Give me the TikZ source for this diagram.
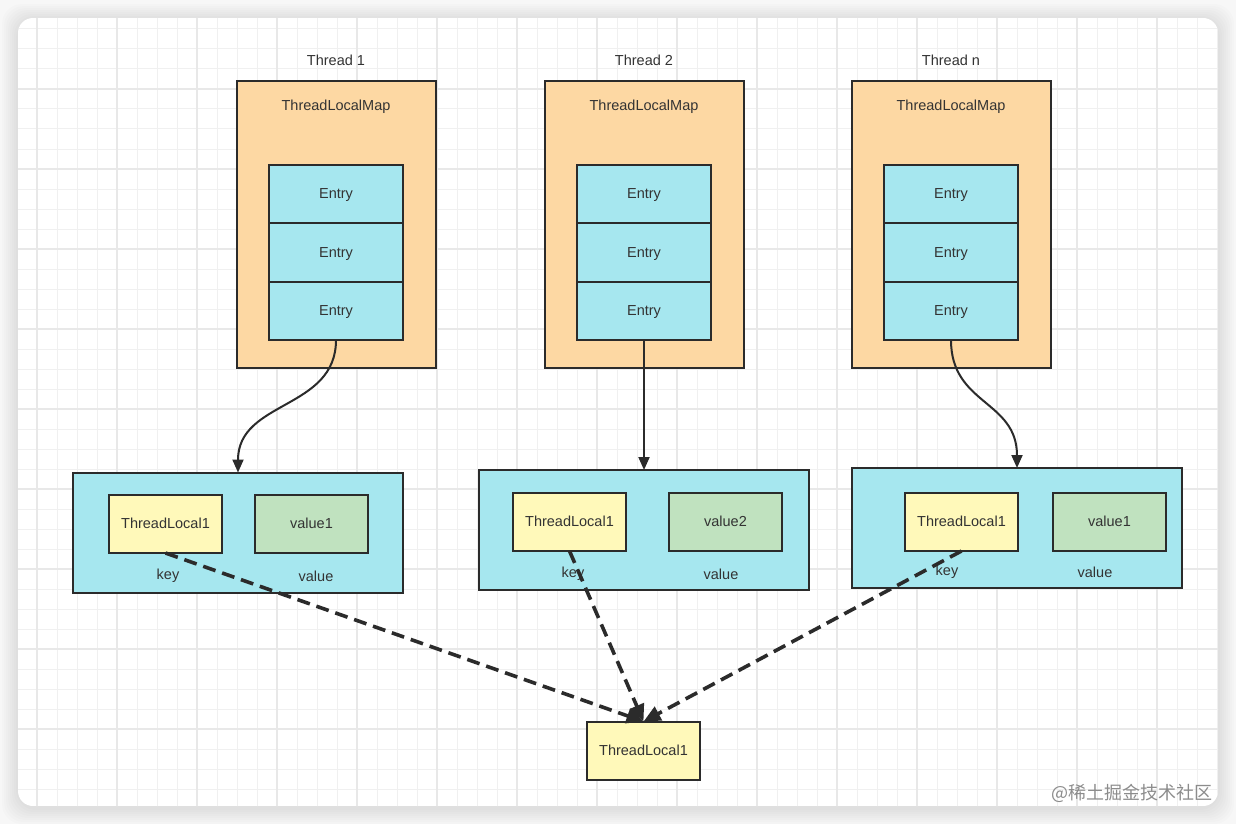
\documentclass[tikz,border=0pt]{standalone}
\usepackage{fontspec}
\setsansfont{Liberation Sans}
\newfontfamily\cjkfont{Noto Sans CJK SC}
\usetikzlibrary{positioning, arrows.meta}

\definecolor{mapfill}{HTML}{FDD8A3}
\definecolor{entryfill}{HTML}{A6E7EF}
\definecolor{keyfill}{HTML}{FFF9BA}
\definecolor{valfill}{HTML}{C0E2BF}
\definecolor{linecol}{HTML}{2B2B2B}
\definecolor{textcol}{HTML}{333333}

\begin{document}
\begin{tikzpicture}[
        x=1pt, y=1pt,
        node distance=0pt,
        box/.style={rectangle, draw=linecol, line width=2pt, outer sep=0pt, inner sep=0pt, align=center, text height=10.5pt, text depth=1pt, font=\sffamily\fontsize{14.5}{16}\selectfont, text=textcol},
        map_node/.style={box, fill=mapfill, minimum width=199pt, minimum height=287pt},
        entry_node/.style={box, fill=entryfill, minimum width=134pt, minimum height=58.3pt},
        pair_node/.style={box, fill=entryfill, minimum width=330pt, minimum height=120pt},
        key_node/.style={box, fill=keyfill, minimum width=113pt, minimum height=58pt},
        val_node/.style={box, fill=valfill, minimum width=113pt, minimum height=58pt},
        txt/.style={inner sep=0pt, font=\sffamily\fontsize{14.5}{16}\selectfont, text=textcol},
        arrow/.style={-{Triangle[length=13pt, width=11pt]}, line width=2pt, draw=linecol},
        ref_arrow/.style={-{Triangle[length=17pt, width=15pt]}, line width=3.6pt, draw=linecol, dash pattern=on 13pt off 7pt}
    ]

        % Fundo e grelha
        \fill[gray!6] (0,0) rectangle (1236,-824);
        \foreach \s in {2,4,...,16}
            \fill[black, opacity=0.012, rounded corners=20pt] ({18-\s},{-18+\s-2}) rectangle ({1218+\s},{-806-\s-2});
        \begin{scope}
            \clip[rounded corners=15pt] (18,-18) rectangle (1218,-806);
            \fill[white] (18,-18) rectangle (1218,-806);
            \draw[black!6, line width=1pt, shift={(37,-9)}, step=20] (-40,-820) grid (1200,20);
            \draw[black!9, line width=1.6pt, shift={(37,-9)}, step=80] (-40,-820) grid (1200,20);
        \end{scope}

        % Threads
        \node[txt] (t1) at (336,-60) {Thread 1};
        \node[map_node] (map1) at (336.5,-224.5) {};
        \node[txt] (m1) at (336,-107) {ThreadLocalMap};
        \node[entry_node] (e11) at (336,-194.2) {Entry};
        \node[entry_node, below=of e11] (e12) {Entry};
        \node[entry_node, below=of e12] (e13) {Entry};

        \node[txt] (t2) at (644,-60) {Thread 2};
        \node[map_node] (map2) at (644.5,-224.5) {};
        \node[txt] (m2) at (644,-107) {ThreadLocalMap};
        \node[entry_node] (e21) at (644,-194.2) {Entry};
        \node[entry_node, below=of e21] (e22) {Entry};
        \node[entry_node, below=of e22] (e23) {Entry};

        \node[txt] (t3) at (951,-60) {Thread n};
        \node[map_node] (map3) at (951.5,-224.5) {};
        \node[txt] (m3) at (951,-107) {ThreadLocalMap};
        \node[entry_node] (e31) at (951,-194.2) {Entry};
        \node[entry_node, below=of e31] (e32) {Entry};
        \node[entry_node, below=of e32] (e33) {Entry};

        % Pares key / value
        \node[pair_node] (p1) at (238,-532.5) {};
        \node[key_node] (k1) at (165.5,-524) {ThreadLocal1};
        \node[val_node] (v1) at (311.5,-524) {value1};
        \node[txt] (kl1) at (168,-576) {key};
        \node[txt] (vl1) at (316,-576) {value};

        \node[pair_node] (p2) at (643.5,-530) {};
        \node[key_node] (k2) at (569.5,-522) {ThreadLocal1};
        \node[val_node] (v2) at (725.5,-522) {value2};
        \node[txt] (kl2) at (573,-574) {key};
        \node[txt] (vl2) at (721,-574) {value};

        \node[pair_node] (p3) at (1017,-528) {};
        \node[key_node] (k3) at (961.5,-522) {ThreadLocal1};
        \node[val_node] (v3) at (1109.5,-522) {value1};
        \node[txt] (kl3) at (947,-572) {key};
        \node[txt] (vl3) at (1095,-572) {value};

        \node[key_node] (tl) at (643.5,-750.5) {ThreadLocal1};

        % Ligações
        \draw[arrow] (e13.south) .. controls (336,-410) and (238,-400) .. (p1.north);
        \draw[arrow] (e23.south) -- (e23.south |- p2.north);
        \draw[arrow] (e33.south) .. controls (951,-405) and (1017,-400) .. (p3.north);

        \draw[ref_arrow] (k1.south) -- (tl.north);
        \draw[ref_arrow] (k2.south) -- (tl.north);
        \draw[ref_arrow] (k3.south) -- (tl.north);

        \node[inner sep=0pt, anchor=east, font=\cjkfont\fontsize{18}{20}\selectfont, text=black!45] (mark) at (1213,-793) {@稀土掘金技术社区};

    \end{tikzpicture}
\end{document}
